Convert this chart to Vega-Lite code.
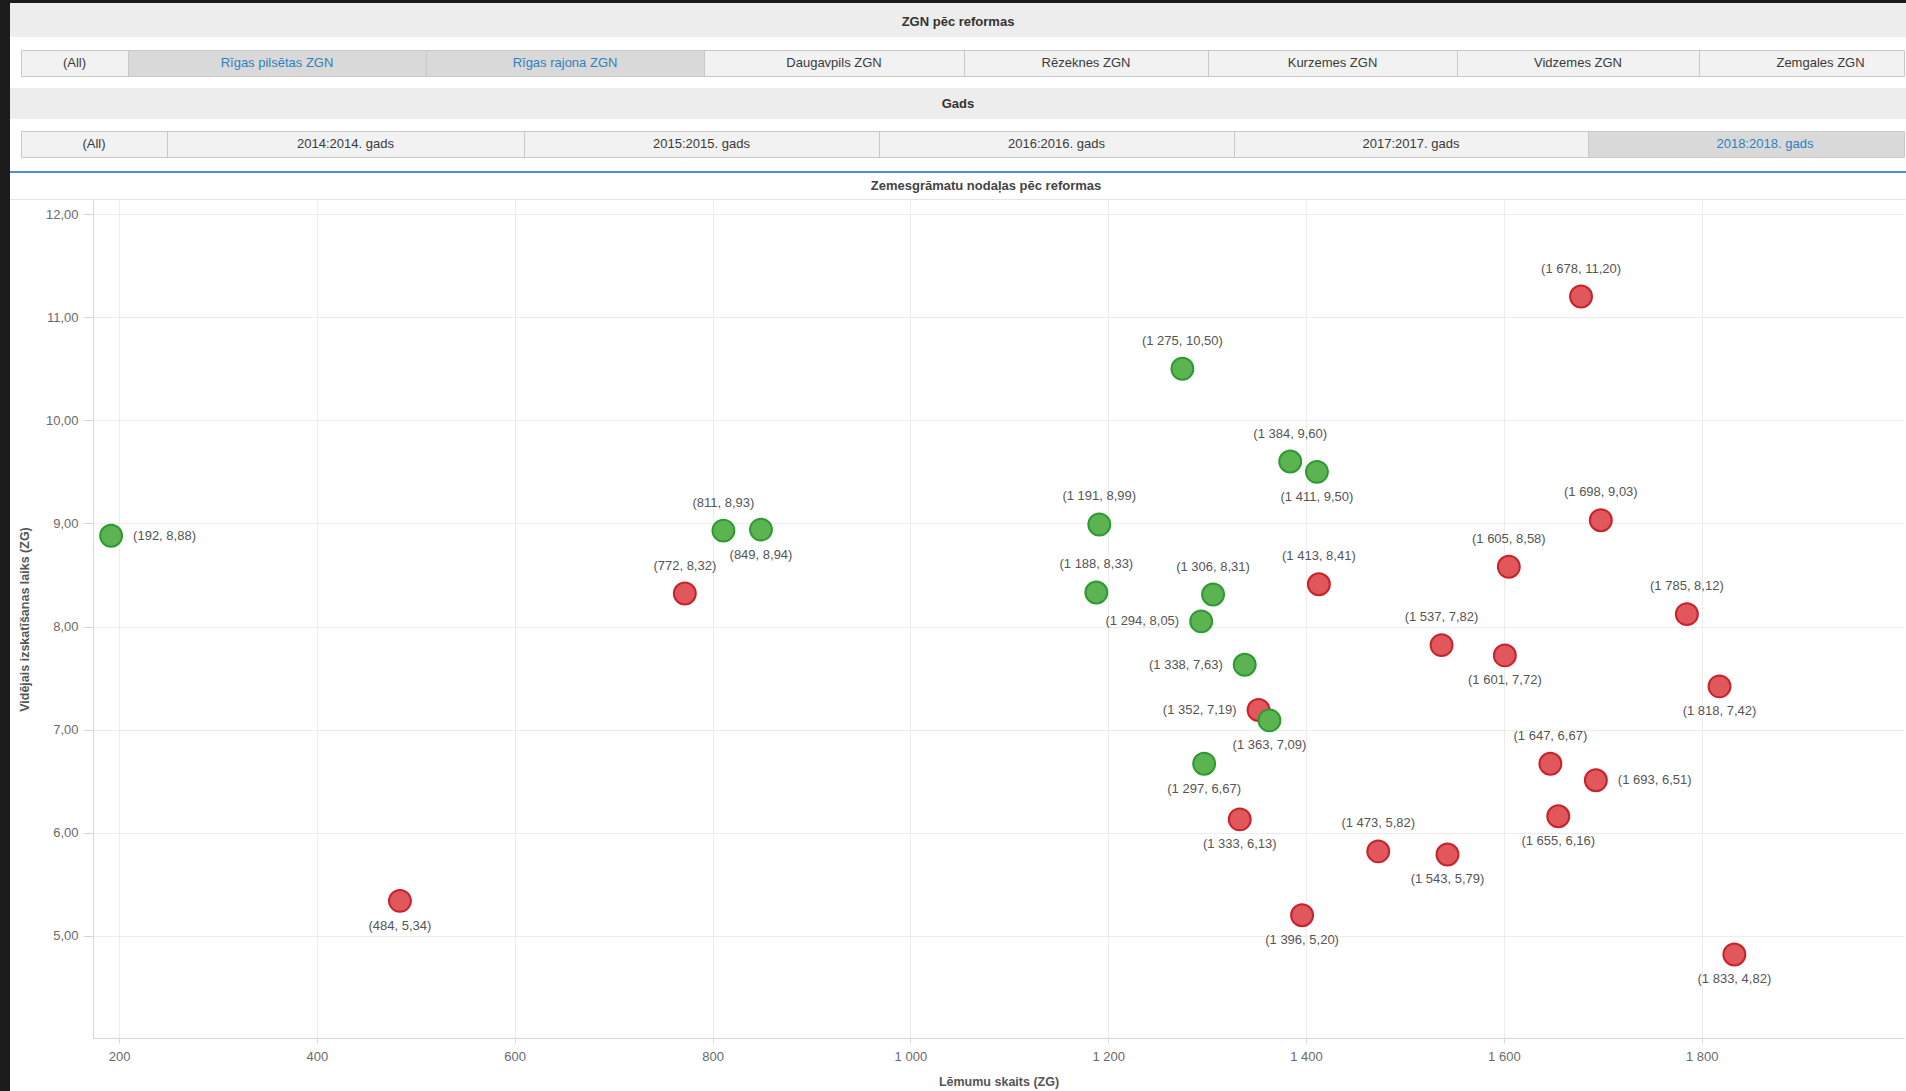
{
  "$schema": "https://vega.github.io/schema/vega-lite/v6.json",
  "padding": 0,
  "background": "#ffffff",
  "spacing": 0,
  "config": {
    "font": "Liberation Sans",
    "view": {"stroke": null},
    "locale": {"number": {"decimal": ",", "thousands": " ", "grouping": [3], "currency": ["", " €"]}}
  },
  "hconcat": [
    {"width": 10, "height": 1091, "view": {"fill": "#1b1b1b"}, "data": {"values": []}, "mark": "point", "encoding": {}},
    {
      "spacing": 0,
      "bounds": "full",
      "vconcat": [
        {"width": 1896, "height": 3, "view": {"fill": "#1b1b1b"}, "data": {"values": []}, "mark": "point", "encoding": {}},
        {"width": 1896, "height": 34, "view": {"fill": "#ededed"}, "data": {"values": [{"label": "ZGN pēc reformas"}]},
         "mark": {"type": "text", "fontSize": 13, "fontWeight": "bold", "fill": "#333333", "dy": 2}, "encoding": {"text": {"field": "label"}}},
        {"width": 1896, "height": 12, "data": {"values": []}, "mark": "point", "encoding": {}},
        {
          "spacing": 0,
          "bounds": "flush",
          "hconcat": [
            {"width": 11, "height": 26, "data": {"values": []}, "mark": "point", "encoding": {}},
            {"width": 107, "height": 26, "view": {"fill": "#f2f2f2", "stroke": "#c8c8c8", "strokeWidth": 1}, "data": {"values": [{"label": "(All)"}]},
             "mark": {"type": "text", "fontSize": 13, "fill": "#3a3a3a"}, "encoding": {"text": {"field": "label"}}},
            {"width": 298, "height": 26, "view": {"fill": "#d9d9d9", "stroke": "#c8c8c8", "strokeWidth": 1}, "data": {"values": [{"label": "Rīgas pilsētas ZGN"}]},
             "mark": {"type": "text", "fontSize": 13, "fill": "#2f80c0"}, "encoding": {"text": {"field": "label"}}},
            {"width": 278, "height": 26, "view": {"fill": "#d9d9d9", "stroke": "#c8c8c8", "strokeWidth": 1}, "data": {"values": [{"label": "Rīgas rajona ZGN"}]},
             "mark": {"type": "text", "fontSize": 13, "fill": "#2f80c0"}, "encoding": {"text": {"field": "label"}}},
            {"width": 260, "height": 26, "view": {"fill": "#f2f2f2", "stroke": "#c8c8c8", "strokeWidth": 1}, "data": {"values": [{"label": "Daugavpils ZGN"}]},
             "mark": {"type": "text", "fontSize": 13, "fill": "#3a3a3a"}, "encoding": {"text": {"field": "label"}}},
            {"width": 244, "height": 26, "view": {"fill": "#f2f2f2", "stroke": "#c8c8c8", "strokeWidth": 1}, "data": {"values": [{"label": "Rēzeknes ZGN"}]},
             "mark": {"type": "text", "fontSize": 13, "fill": "#3a3a3a"}, "encoding": {"text": {"field": "label"}}},
            {"width": 249, "height": 26, "view": {"fill": "#f2f2f2", "stroke": "#c8c8c8", "strokeWidth": 1}, "data": {"values": [{"label": "Kurzemes ZGN"}]},
             "mark": {"type": "text", "fontSize": 13, "fill": "#3a3a3a"}, "encoding": {"text": {"field": "label"}}},
            {"width": 242, "height": 26, "view": {"fill": "#f2f2f2", "stroke": "#c8c8c8", "strokeWidth": 1}, "data": {"values": [{"label": "Vidzemes ZGN"}]},
             "mark": {"type": "text", "fontSize": 13, "fill": "#3a3a3a"}, "encoding": {"text": {"field": "label"}}},
            {"width": 205, "height": 26, "view": {"fill": "#f2f2f2", "stroke": "#c8c8c8", "strokeWidth": 1}, "data": {"values": [{"label": "Zemgales ZGN"}]},
             "mark": {"type": "text", "fontSize": 13, "fill": "#3a3a3a", "dx": 19}, "encoding": {"text": {"field": "label"}}}
          ]
        },
        {"width": 1896, "height": 11, "data": {"values": []}, "mark": "point", "encoding": {}},
        {"width": 1896, "height": 31, "view": {"fill": "#ededed"}, "data": {"values": [{"label": "Gads"}]},
         "mark": {"type": "text", "fontSize": 13, "fontWeight": "bold", "fill": "#333333"}, "encoding": {"text": {"field": "label"}}},
        {"width": 1896, "height": 11, "data": {"values": []}, "mark": "point", "encoding": {}},
        {
          "spacing": 0,
          "bounds": "flush",
          "hconcat": [
            {"width": 11, "height": 26, "data": {"values": []}, "mark": "point", "encoding": {}},
            {"width": 146, "height": 26, "view": {"fill": "#f2f2f2", "stroke": "#c8c8c8", "strokeWidth": 1}, "data": {"values": [{"label": "(All)"}]},
             "mark": {"type": "text", "fontSize": 13, "fill": "#3a3a3a"}, "encoding": {"text": {"field": "label"}}},
            {"width": 357, "height": 26, "view": {"fill": "#f2f2f2", "stroke": "#c8c8c8", "strokeWidth": 1}, "data": {"values": [{"label": "2014:2014. gads"}]},
             "mark": {"type": "text", "fontSize": 13, "fill": "#3a3a3a"}, "encoding": {"text": {"field": "label"}}},
            {"width": 355, "height": 26, "view": {"fill": "#f2f2f2", "stroke": "#c8c8c8", "strokeWidth": 1}, "data": {"values": [{"label": "2015:2015. gads"}]},
             "mark": {"type": "text", "fontSize": 13, "fill": "#3a3a3a"}, "encoding": {"text": {"field": "label"}}},
            {"width": 355, "height": 26, "view": {"fill": "#f2f2f2", "stroke": "#c8c8c8", "strokeWidth": 1}, "data": {"values": [{"label": "2016:2016. gads"}]},
             "mark": {"type": "text", "fontSize": 13, "fill": "#3a3a3a"}, "encoding": {"text": {"field": "label"}}},
            {"width": 354, "height": 26, "view": {"fill": "#f2f2f2", "stroke": "#c8c8c8", "strokeWidth": 1}, "data": {"values": [{"label": "2017:2017. gads"}]},
             "mark": {"type": "text", "fontSize": 13, "fill": "#3a3a3a"}, "encoding": {"text": {"field": "label"}}},
            {"width": 316, "height": 26, "view": {"fill": "#d9d9d9", "stroke": "#c8c8c8", "strokeWidth": 1}, "data": {"values": [{"label": "2018:2018. gads"}]},
             "mark": {"type": "text", "fontSize": 13, "fill": "#2f80c0", "dx": 19}, "encoding": {"text": {"field": "label"}}}
          ]
        },
        {"width": 1896, "height": 13, "data": {"values": []}, "mark": "point", "encoding": {}},
        {"width": 1896, "height": 2, "view": {"fill": "#4a8fdd"}, "data": {"values": []}, "mark": "point", "encoding": {}},
        {"width": 1896, "height": 26, "data": {"values": [{"label": "Zemesgrāmatu nodaļas pēc reformas"}]},
         "mark": {"type": "text", "fontSize": 13, "fontWeight": "bold", "fill": "#444444", "dx": 28}, "encoding": {"text": {"field": "label"}}},
        {"width": 1896, "height": 1, "view": {"fill": "#e3e3e3"}, "data": {"values": []}, "mark": "point", "encoding": {}},
        {
          "spacing": 0,
          "bounds": "flush",
          "hconcat": [
            {"width": 83, "height": 838, "data": {"values": []}, "mark": "point", "encoding": {}},
            {
              "width": 1811,
              "height": 838,
              "data": {"values": [
                {"zgn": "Rīgas rajona ZGN", "lemumi": 1678, "laiks": 11.20},
                {"zgn": "Rīgas rajona ZGN", "lemumi": 1698, "laiks": 9.03},
                {"zgn": "Rīgas rajona ZGN", "lemumi": 1605, "laiks": 8.58},
                {"zgn": "Rīgas rajona ZGN", "lemumi": 1413, "laiks": 8.41},
                {"zgn": "Rīgas rajona ZGN", "lemumi": 1785, "laiks": 8.12},
                {"zgn": "Rīgas rajona ZGN", "lemumi": 1537, "laiks": 7.82},
                {"zgn": "Rīgas rajona ZGN", "lemumi": 1601, "laiks": 7.72},
                {"zgn": "Rīgas rajona ZGN", "lemumi": 1818, "laiks": 7.42},
                {"zgn": "Rīgas rajona ZGN", "lemumi": 1352, "laiks": 7.19},
                {"zgn": "Rīgas rajona ZGN", "lemumi": 1647, "laiks": 6.67},
                {"zgn": "Rīgas rajona ZGN", "lemumi": 1693, "laiks": 6.51},
                {"zgn": "Rīgas rajona ZGN", "lemumi": 1655, "laiks": 6.16},
                {"zgn": "Rīgas rajona ZGN", "lemumi": 1333, "laiks": 6.13},
                {"zgn": "Rīgas rajona ZGN", "lemumi": 1473, "laiks": 5.82},
                {"zgn": "Rīgas rajona ZGN", "lemumi": 1543, "laiks": 5.79},
                {"zgn": "Rīgas rajona ZGN", "lemumi": 1396, "laiks": 5.20},
                {"zgn": "Rīgas rajona ZGN", "lemumi": 1833, "laiks": 4.82},
                {"zgn": "Rīgas rajona ZGN", "lemumi": 772, "laiks": 8.32},
                {"zgn": "Rīgas rajona ZGN", "lemumi": 484, "laiks": 5.34},
                {"zgn": "Rīgas pilsētas ZGN", "lemumi": 192, "laiks": 8.88},
                {"zgn": "Rīgas pilsētas ZGN", "lemumi": 811, "laiks": 8.93},
                {"zgn": "Rīgas pilsētas ZGN", "lemumi": 849, "laiks": 8.94},
                {"zgn": "Rīgas pilsētas ZGN", "lemumi": 1275, "laiks": 10.50},
                {"zgn": "Rīgas pilsētas ZGN", "lemumi": 1384, "laiks": 9.60},
                {"zgn": "Rīgas pilsētas ZGN", "lemumi": 1411, "laiks": 9.50},
                {"zgn": "Rīgas pilsētas ZGN", "lemumi": 1191, "laiks": 8.99},
                {"zgn": "Rīgas pilsētas ZGN", "lemumi": 1188, "laiks": 8.33},
                {"zgn": "Rīgas pilsētas ZGN", "lemumi": 1306, "laiks": 8.31},
                {"zgn": "Rīgas pilsētas ZGN", "lemumi": 1294, "laiks": 8.05},
                {"zgn": "Rīgas pilsētas ZGN", "lemumi": 1338, "laiks": 7.63},
                {"zgn": "Rīgas pilsētas ZGN", "lemumi": 1363, "laiks": 7.09},
                {"zgn": "Rīgas pilsētas ZGN", "lemumi": 1297, "laiks": 6.67}
              ]},
              "transform": [
                {"calculate": "'(' + format(datum.lemumi, ',d') + ', ' + format(datum.laiks, '.2f') + ')'", "as": "label"}
              ],
              "encoding": {
                "x": {
                  "field": "lemumi", "type": "quantitative",
                  "scale": {"domain": [173.7, 2004.5], "nice": false, "zero": false},
                  "axis": {
                    "title": "Lēmumu skaits (ZG)",
                    "values": [200, 400, 600, 800, 1000, 1200, 1400, 1600, 1800],
                    "format": ",d",
                    "grid": true, "gridColor": "#ececec",
                    "domainColor": "#d6d6d6", "tickColor": "#d6d6d6", "tickSize": 5,
                    "labelPadding": 7, "labelFontSize": 13, "labelColor": "#6a6a6a", "labelFlush": false,
                    "titleFontSize": 12.5, "titleFontWeight": "bold", "titleColor": "#555555", "titlePadding": 12
                  }
                },
                "y": {
                  "field": "laiks", "type": "quantitative",
                  "scale": {"domain": [4.01, 12.136], "nice": false, "zero": false},
                  "axis": {
                    "title": "Vidējais izskatīšanas laiks (ZG)",
                    "values": [5, 6, 7, 8, 9, 10, 11, 12],
                    "format": ".2f",
                    "grid": true, "gridColor": "#ececec",
                    "domainColor": "#d6d6d6", "tickColor": "#d6d6d6", "tickSize": 10,
                    "labelPadding": 5, "labelFontSize": 13, "labelColor": "#6a6a6a", "labelFlush": false,
                    "titleFontSize": 12.5, "titleFontWeight": "bold", "titleColor": "#555555", "titlePadding": 14
                  }
                }
              },
              "layer": [
                {
                  "mark": {"type": "circle", "size": 480, "strokeWidth": 2, "opacity": 1},
                  "encoding": {
                    "fill": {"field": "zgn", "type": "nominal", "scale": {"domain": ["Rīgas pilsētas ZGN", "Rīgas rajona ZGN"], "range": ["#5cb450", "#e0585c"]}, "legend": null},
                    "stroke": {"field": "zgn", "type": "nominal", "scale": {"domain": ["Rīgas pilsētas ZGN", "Rīgas rajona ZGN"], "range": ["#2d9a34", "#c8232c"]}, "legend": null}
                  }
                },
                {
                  "transform": [{"filter": {"field": "lemumi", "oneOf": [811, 772, 1275, 1384, 1191, 1188, 1306, 1413, 1473, 1537, 1605, 1678, 1698, 1785, 1647]}}],
                  "mark": {"type": "text", "fontSize": 13, "fill": "#555555", "dy": -28},
                  "encoding": {"text": {"field": "label"}}
                },
                {
                  "transform": [{"filter": {"field": "lemumi", "oneOf": [849, 484, 1411, 1363, 1297, 1333, 1543, 1396, 1601, 1818, 1655, 1833]}}],
                  "mark": {"type": "text", "fontSize": 13, "fill": "#555555", "dy": 25},
                  "encoding": {"text": {"field": "label"}}
                },
                {
                  "transform": [{"filter": {"field": "lemumi", "oneOf": [1294, 1338, 1352]}}],
                  "mark": {"type": "text", "fontSize": 13, "fill": "#555555", "align": "right", "dx": -22},
                  "encoding": {"text": {"field": "label"}}
                },
                {
                  "transform": [{"filter": {"field": "lemumi", "oneOf": [192, 1693]}}],
                  "mark": {"type": "text", "fontSize": 13, "fill": "#555555", "align": "left", "dx": 22},
                  "encoding": {"text": {"field": "label"}}
                }
              ]
            }
          ]
        }
      ]
    }
  ]
}
